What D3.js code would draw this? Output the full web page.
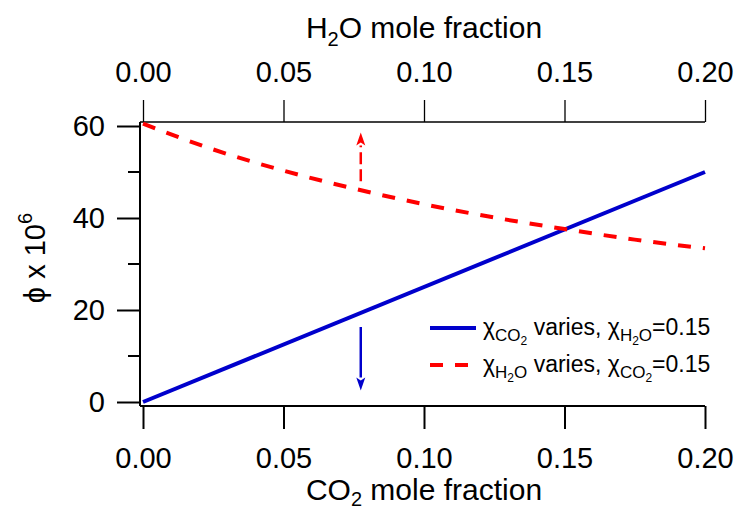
<html>
<head>
<script src="https://d3js.org/d3.v7.min.js"></script>
<style>
  body { margin: 0; background: #fff; }
  text { font-family: "Liberation Sans", Arial, sans-serif; fill: #000; }
</style>
</head>
<body>
<div id="chart"></div>
<script>
// data
var co2Frac = [0, 0.2];            // blue line, bottom axis
var phiCO2 = [0, 50];
var h2oFrac = [0, 0.025, 0.05, 0.075, 0.1, 0.125, 0.15, 0.175, 0.2];   // red dashed, top axis
var phiH2O = [60.5, 54.9, 50.3, 46.4, 43.0, 40.1, 37.6, 35.3, 33.4];
var xTicks = [0, 0.05, 0.1, 0.15, 0.2];
var yMajor = [0, 20, 40, 60];
var yMinor = [10, 30, 50];
// arrows: [x, from, to]
var arrowRed = [0.0775, 48, 58.6];
var arrowBlue = [0.0775, 16.3, 2.5];

var W = 737, H = 510;
var svg = d3.select("#chart").append("svg")
  .attr("width", W).attr("height", H);

var x = d3.scaleLinear().domain([0, 0.2]).range([143, 705]);
var y = d3.scaleLinear().domain([0, 60]).range([402, 126]);

// bottom axis
var gB = svg.append("g").attr("transform", "translate(0,406)")
  .call(d3.axisBottom(x).tickValues(xTicks).tickFormat(d3.format(".2f"))
        .tickSize(23).tickSizeOuter(0).tickPadding(18));
gB.select(".domain").attr("d", "M140,0H705");

// top axis
var gT = svg.append("g").attr("transform", "translate(0,122)")
  .call(d3.axisTop(x).tickValues(xTicks).tickFormat(d3.format(".2f"))
        .tickSize(22).tickSizeOuter(0).tickPadding(18));
gT.select(".domain").attr("d", "M140,0H705");

// left axis
var gL = svg.append("g").attr("transform", "translate(140,0)")
  .call(d3.axisLeft(y).tickValues(yMajor).tickSize(23).tickSizeOuter(0).tickPadding(12));
gL.select(".domain").attr("d", "M0,122V406");
gL.selectAll(".minor").data(yMinor).enter().append("line")
  .attr("x1", 0).attr("x2", -12)
  .attr("y1", function(d) { return y(d); }).attr("y2", function(d) { return y(d); })
  .attr("stroke", "#000").attr("stroke-width", 2);

[gB, gL].forEach(function(g) {
  g.selectAll(".domain").attr("stroke", "#000").attr("stroke-width", 2);
  g.selectAll(".tick line").attr("stroke", "#000").attr("stroke-width", 2);
});
gT.selectAll(".domain").attr("stroke", "#000").attr("stroke-width", 1.5);
gT.selectAll(".tick line").attr("stroke", "#000").attr("stroke-width", 1.3);
svg.selectAll(".tick text").attr("font-size", 29)
  .attr("font-family", "Liberation Sans, Arial, sans-serif").attr("fill", "#000");

// helper for text with sub/superscripts: segments [text, size, shift]
function richText(parent, px, py, segs, anchor) {
  var t = parent.append("text").attr("x", px).attr("y", py)
    .attr("text-anchor", anchor || "start");
  var prev = 0;
  segs.forEach(function(s) {
    t.append("tspan").attr("font-size", s[1]).attr("dy", s[2] - prev).text(s[0]);
    prev = s[2];
  });
  return t;
}

// axis titles
richText(svg, 424, 38, [["H", 30, 0], ["2", 20, 8], ["O mole fraction", 30, 0]], "middle");
richText(svg, 424, 500, [["CO", 30, 0], ["2", 20, 6], [" mole fraction", 30, 0]], "middle");
var yt = svg.append("g").attr("transform", "translate(45,258) rotate(-90)");
richText(yt, 0, 0, [["\u03D5 x 10", 29, 0], ["6", 20, -13]], "middle");

// lines
var lineCO2 = d3.line().x(function(d, i) { return x(co2Frac[i]); }).y(function(d) { return y(d); });
svg.append("path").datum(phiCO2).attr("d", lineCO2)
  .attr("fill", "none").attr("stroke", "#0000CC").attr("stroke-width", 4);

var lineH2O = d3.line().curve(d3.curveMonotoneX)
  .x(function(d, i) { return x(h2oFrac[i]); }).y(function(d) { return y(d); });
svg.append("path").datum(phiH2O).attr("d", lineH2O)
  .attr("fill", "none").attr("stroke", "#FF0000").attr("stroke-width", 4)
  .attr("stroke-dasharray", "13,12");

// arrows
function arrow(a, color, dash) {
  var ax = x(a[0]), y1 = y(a[1]), y2 = y(a[2]);
  var dir = y2 < y1 ? 1 : -1;   // head points up when dir=1
  var hl = 13, hw = 4.5;
  svg.append("line").attr("x1", ax).attr("x2", ax)
    .attr("y1", y1).attr("y2", y2 + dir * hl)
    .attr("stroke", color).attr("stroke-width", 2.5)
    .attr("stroke-dasharray", dash);
  svg.append("path")
    .attr("d", "M" + ax + "," + y2 + "L" + (ax - hw) + "," + (y2 + dir * hl) +
      "L" + ax + "," + (y2 + dir * (hl - 3)) + "L" + (ax + hw) + "," + (y2 + dir * hl) + "Z")
    .attr("fill", color);
}
arrow(arrowRed, "#FF0000", "12,5");
arrow(arrowBlue, "#0000CC", null);

// legend
var lg = svg.append("g");
lg.append("line").attr("x1", 430).attr("x2", 476).attr("y1", 328).attr("y2", 328)
  .attr("stroke", "#0000CC").attr("stroke-width", 4);
lg.append("line").attr("x1", 430).attr("x2", 476).attr("y1", 365).attr("y2", 365)
  .attr("stroke", "#FF0000").attr("stroke-width", 4).attr("stroke-dasharray", "13,12");
richText(lg, 483, 335, [["\u03C7", 23, 0], ["CO", 17, 6], ["2", 12, 10],
  [" varies, \u03C7", 23, 0], ["H", 17, 6], ["2", 12, 10], ["O", 17, 6], ["=0.15", 23, 0]]);
richText(lg, 483, 372, [["\u03C7", 23, 0], ["H", 17, 6], ["2", 12, 10], ["O", 17, 6],
  [" varies, \u03C7", 23, 0], ["CO", 17, 6], ["2", 12, 10], ["=0.15", 23, 0]]);
</script>
</body>
</html>
